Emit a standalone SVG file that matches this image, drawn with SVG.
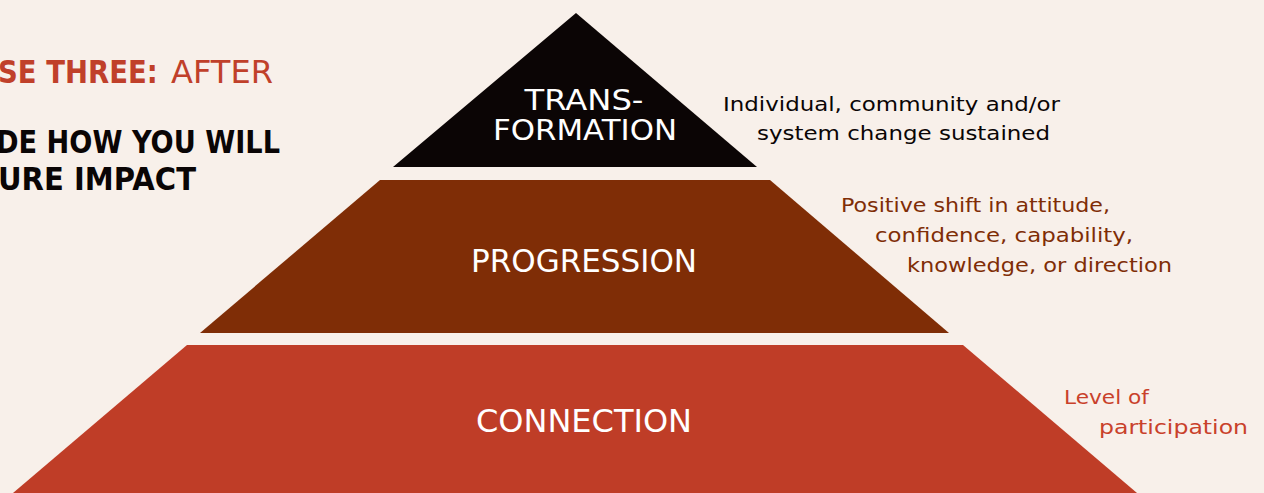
<svg xmlns="http://www.w3.org/2000/svg" width="1264" height="493" viewBox="0 0 1264 493">
  <style>
    text { font-family: "DejaVu Sans", "Liberation Sans", sans-serif; }
    .tier { fill: #ffffff; font-size: 32px; text-anchor: middle; }
    .tier-tight { font-size: 28px; }
    .note { font-size: 20px; }
    .head { font-size: 32px; }
  </style>
  <rect width="1264" height="493" fill="#F8F0EA"/>

  <!-- heading, running off the left edge -->
  <g id="heading">
    <text class="head" transform="translate(-2,83) scale(0.86,1)" fill="#C0402A" font-weight="bold">SE THREE:</text>
    <text class="head" x="171" y="83" fill="#C0402A" textLength="102" lengthAdjust="spacingAndGlyphs">AFTER</text>
    <text class="head" x="-4" y="153" fill="#0A0505" font-weight="bold" textLength="284" lengthAdjust="spacingAndGlyphs">DE HOW YOU WILL</text>
    <text class="head" x="-2" y="190" fill="#0A0505" font-weight="bold" textLength="198" lengthAdjust="spacingAndGlyphs">URE IMPACT</text>
  </g>

  <!-- pyramid tiers -->
  <g id="transformation">
    <polygon points="576,13 757,167 393,167" fill="#0B0505"/>
    <text class="tier tier-tight" x="584" y="110" textLength="119" lengthAdjust="spacingAndGlyphs">TRANS-</text>
    <text class="tier tier-tight" x="585" y="140" textLength="184" lengthAdjust="spacingAndGlyphs">FORMATION</text>
  </g>
  <g id="progression">
    <polygon points="380,180 770,180 949,333 200,333" fill="#7F2D06"/>
    <text class="tier" x="584" y="272" textLength="226" lengthAdjust="spacingAndGlyphs">PROGRESSION</text>
  </g>
  <g id="connection">
    <polygon points="187,345 963,345 1137,493 13,493" fill="#BF3D27"/>
    <text class="tier" x="584" y="432" textLength="216" lengthAdjust="spacingAndGlyphs">CONNECTION</text>
  </g>

  <!-- side notes -->
  <g id="note-transformation" fill="#0A0505">
    <text class="note" x="723" y="111" textLength="337" lengthAdjust="spacingAndGlyphs">Individual, community and/or</text>
    <text class="note" x="757" y="140" textLength="293" lengthAdjust="spacingAndGlyphs">system change sustained</text>
  </g>
  <g id="note-progression" fill="#7F2D06">
    <text class="note" x="841" y="212" textLength="269" lengthAdjust="spacingAndGlyphs">Positive shift in attitude,</text>
    <text class="note" x="875" y="242" textLength="258" lengthAdjust="spacingAndGlyphs">confidence, capability,</text>
    <text class="note" x="907" y="272" textLength="265" lengthAdjust="spacingAndGlyphs">knowledge, or direction</text>
  </g>
  <g id="note-connection" fill="#C9412A">
    <text class="note" x="1064" y="404" textLength="85" lengthAdjust="spacingAndGlyphs">Level of</text>
    <text class="note" x="1099" y="434" textLength="149" lengthAdjust="spacingAndGlyphs">participation</text>
  </g>
</svg>
